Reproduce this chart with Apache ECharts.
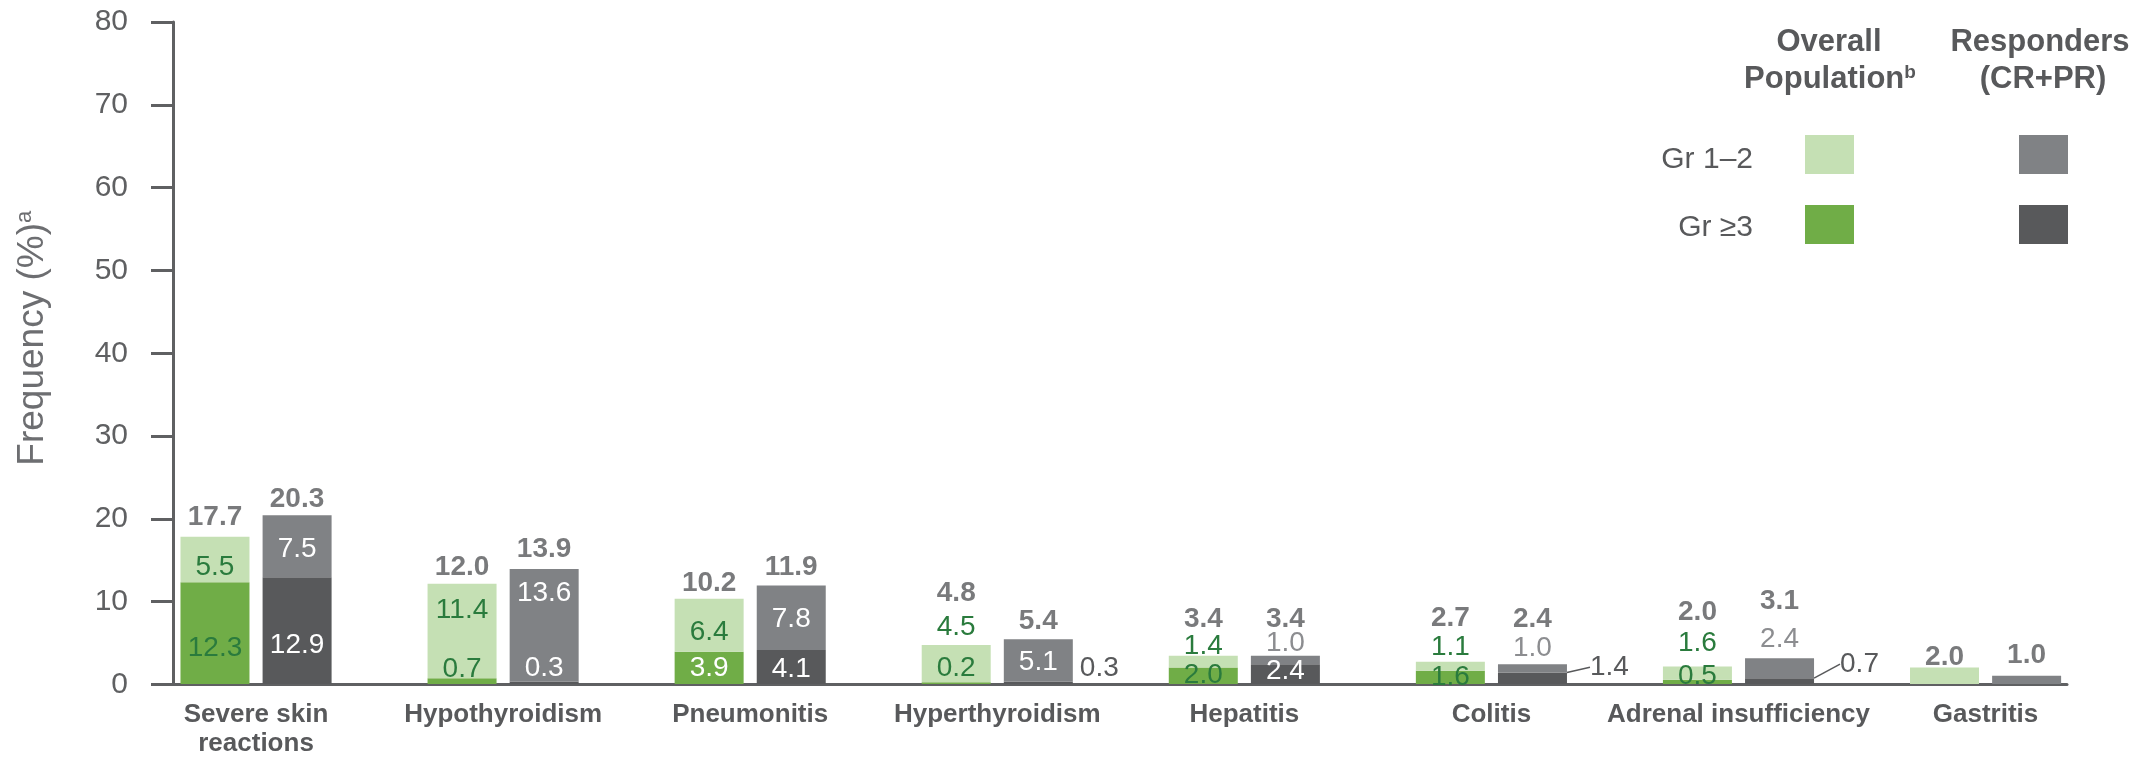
<!DOCTYPE html>
<html lang="en">
  <head>
    <meta charset="UTF-8" />
    <title>Frequency of adverse events</title>
    <style>
      html,
      body {
        margin: 0;
        padding: 0;
        background: #fff;
      }
      #main {
        width: 2146px;
        height: 758px;
      }
    </style>
  </head>
  <body>
    <div id="main"></div>
    <script src="https://cdn.jsdelivr.net/npm/echarts@6/dist/echarts.min.js"></script>

    <script>
      // categories and values
      const categories = [
        "Severe skin\nreactions",
        "Hypothyroidism",
        "Pneumonitis",
        "Hyperthyroidism",
        "Hepatitis",
        "Colitis",
        "Adrenal insufficiency",
        "Gastritis",
      ];
      const overallGr3 = [12.3, 0.7, 3.9, 0.2, 2.0, 1.6, 0.5, 0];
      const overallGr12 = [5.5, 11.4, 6.4, 4.5, 1.4, 1.1, 1.6, 2.0];
      const overallTotal = [17.7, 12.0, 10.2, 4.8, 3.4, 2.7, 2.0, 2.0];
      const respGr3 = [12.9, 0.3, 4.1, 0.3, 2.4, 1.4, 0.7, 0];
      const respGr12 = [7.5, 13.6, 7.8, 5.1, 1.0, 1.0, 2.4, 1.0];
      const respTotal = [20.3, 13.9, 11.9, 5.4, 3.4, 2.4, 3.1, 1.0];
      const yTicks = [0, 10, 20, 30, 40, 50, 60, 70, 80];

      // label nudges (px) - the slide places some labels by hand
      const oGr3Dy = [15, -12, 0, -15, 0, 0, -6, 0];
      const oGr12Dy = [8, -21, 7, -36, -15, -19, -30, 0];
      const rGr3Dy = [15, -14, 2, -14, -3, -11, -17, 0];
      const rGr12Dy = [3, -32, 1, 2, -17, -20, -29, 0];
      const oTotUp = [20, 17, 16, 51, 37, 43, 55, 10];
      const rTotUp = [17, 20, 18, 18, 37, 45, 57, 20];
      const rGr3Outside = { 3: 7, 5: 23, 6: 26 }; // index -> distance
      const rGr3Leader = [5, 6];
      const noSegLabel = [7]; // gastritis shows only totals

      const FONT = "Liberation Sans, Arial, sans-serif";
      const TXT = "#58595b";
      const GREEN_TXT = "#2a7b3d";
      const LIGHT_TXT = "#8c8d90";
      const C_LG = "#c5e0b4";
      const C_G = "#70ad47";
      const C_GR = "#808285";
      const C_DG = "#58595b";
      const BAR_OFF = 41;

      const dom = document.getElementById("main");
      const myChart = echarts.init(dom);

      const fmt = (p) =>
        p.value && !noSegLabel.includes(p.dataIndex) ? p.value.toFixed(1) : "";

      function segData(values, dys, colors) {
        return values.map((v, i) => ({
          value: v,
          label: { offset: [0, dys[i]], color: colors[i] },
        }));
      }

      const oGr3Colors = overallGr3.map((v, i) => (i === 2 ? "#fff" : GREEN_TXT));
      const oGr12Colors = overallGr12.map(() => GREEN_TXT);
      const rGr12Colors = respGr12.map((v, i) =>
        i >= 4 && i <= 6 ? LIGHT_TXT : "#fff"
      );

      // responders Gr >=3: nudges go through labelLayout so leader lines follow
      const rGr3Data = respGr3.map((v, i) => {
        const item = { value: v, label: { color: "#fff" } };
        if (rGr3Outside[i] !== undefined) {
          item.label.position = "right";
          item.label.distance = rGr3Outside[i];
          item.label.color = TXT;
        }
        if (rGr3Leader.includes(i)) {
          item.labelLine = {
            show: true,
            lineStyle: { color: TXT, width: 1.5 },
          };
        }
        return item;
      });

      const segLabel = {
        show: true,
        position: "inside",
        fontFamily: FONT,
        fontSize: 28,
        formatter: fmt,
      };

      const totalLabel = () => ({
        show: true,
        position: "inside",
        fontFamily: FONT,
        fontSize: 28,
        fontWeight: "bold",
        color: TXT,
        formatter: (p) => p.value.toFixed(1),
      });

      function totalData(values, ups, side) {
        return values.map((v, i) => ({
          value: v,
          label: { offset: [side * BAR_OFF, -ups[i]] },
        }));
      }

      myChart.setOption({
        animation: false,
        grid: [
          { left: 173, top: 22, width: 1894, height: 662.5 },
          { left: 132.5, top: 22, width: 1976.6, height: 662.5 },
        ],
        xAxis: [
          {
            gridIndex: 0,
            type: "value",
            min: 0,
            max: 1,
            axisLine: { show: true, lineStyle: { color: "#5f6062", width: 3 } },
            axisTick: { show: false },
            axisLabel: { show: false },
            splitLine: { show: false },
          },
          {
            gridIndex: 1,
            type: "category",
            data: categories,
            axisLine: { show: false },
            axisTick: { show: false },
            axisLabel: {
              interval: 0,
              margin: 16,
              fontFamily: FONT,
              fontSize: 26,
              fontWeight: "bold",
              lineHeight: 29,
              color: TXT,
            },
          },
        ],
        yAxis: [
          {
            gridIndex: 0,
            type: "value",
            min: 0,
            max: 80,
            interval: 10,
            axisLine: { show: true, lineStyle: { color: "#5f6062", width: 3 } },
            axisTick: {
              show: true,
              length: 22,
              lineStyle: { color: "#5f6062", width: 3 },
            },
            axisLabel: {
              margin: 45,
              fontFamily: FONT,
              fontSize: 30,
              color: "#5f6062",
              formatter: (v) => (yTicks.includes(v) ? String(v) : ""),
            },
            splitLine: { show: false },
            name: "{m|Frequency (%)}{s|a}",
            nameLocation: "middle",
            nameGap: 122,
            nameRotate: 90,
            nameTextStyle: {
              padding: [0, 0, 0, 30],
              rich: {
                m: { fontFamily: FONT, fontSize: 37, color: "#6d6e71" },
                s: {
                  fontFamily: FONT,
                  fontSize: 22,
                  color: "#6d6e71",
                  verticalAlign: "top",
                },
              },
            },
          },
          {
            gridIndex: 1,
            type: "value",
            min: 0,
            max: 80,
            show: false,
          },
        ],
        series: [
          {
            name: "Overall Gr ≥3",
            type: "bar",
            xAxisIndex: 1,
            yAxisIndex: 1,
            stack: "overall",
            barWidth: 69,
            barGap: "19%",
            itemStyle: { color: C_G },
            label: segLabel,
            data: segData(overallGr3, oGr3Dy, oGr3Colors),
          },
          {
            name: "Overall Gr 1–2",
            type: "bar",
            xAxisIndex: 1,
            yAxisIndex: 1,
            stack: "overall",
            barWidth: 69,
            itemStyle: { color: C_LG },
            label: segLabel,
            data: segData(overallGr12, oGr12Dy, oGr12Colors),
          },
          {
            name: "Responders Gr ≥3",
            type: "bar",
            xAxisIndex: 1,
            yAxisIndex: 1,
            stack: "resp",
            barWidth: 69,
            barGap: "19%",
            itemStyle: { color: C_DG },
            label: segLabel,
            labelLine: { show: false },
            labelLayout: (params) => ({ dy: rGr3Dy[params.dataIndex] }),
            data: rGr3Data,
          },
          {
            name: "Responders Gr 1–2",
            type: "bar",
            xAxisIndex: 1,
            yAxisIndex: 1,
            stack: "resp",
            barWidth: 69,
            itemStyle: { color: C_GR },
            label: segLabel,
            data: segData(respGr12, rGr12Dy, rGr12Colors),
          },
          {
            name: "Overall total",
            type: "scatter",
            xAxisIndex: 1,
            yAxisIndex: 1,
            symbolSize: 0,
            silent: true,
            z: 5,
            label: totalLabel(),
            data: totalData(overallTotal, oTotUp, -1),
          },
          {
            name: "Responders total",
            type: "scatter",
            xAxisIndex: 1,
            yAxisIndex: 1,
            symbolSize: 0,
            silent: true,
            z: 5,
            label: totalLabel(),
            data: totalData(respTotal, rTotUp, 1),
          },
        ],
        graphic: [
          {
            type: "text",
            x: 1829,
            y: 42,
            style: {
              text: "Overall",
              font: "bold 31px " + FONT,
              fill: TXT,
              align: "center",
              verticalAlign: "middle",
            },
          },
          {
            type: "text",
            x: 1830,
            y: 79,
            style: {
              text: "{m|Population}{s|b}",
              align: "center",
              verticalAlign: "middle",
              rich: {
                m: { font: "bold 31px " + FONT, fill: TXT },
                s: { font: "bold 19px " + FONT, fill: TXT, verticalAlign: "top" },
              },
            },
          },
          {
            type: "text",
            x: 2040,
            y: 42,
            style: {
              text: "Responders",
              font: "bold 31px " + FONT,
              fill: TXT,
              align: "center",
              verticalAlign: "middle",
            },
          },
          {
            type: "text",
            x: 2043,
            y: 79,
            style: {
              text: "(CR+PR)",
              font: "bold 31px " + FONT,
              fill: TXT,
              align: "center",
              verticalAlign: "middle",
            },
          },
          {
            type: "rect",
            shape: { x: 1805, y: 135, width: 49, height: 39 },
            style: { fill: C_LG },
          },
          {
            type: "rect",
            shape: { x: 1805, y: 205, width: 49, height: 39 },
            style: { fill: C_G },
          },
          {
            type: "rect",
            shape: { x: 2019, y: 135, width: 49, height: 39 },
            style: { fill: C_GR },
          },
          {
            type: "rect",
            shape: { x: 2019, y: 205, width: 49, height: 39 },
            style: { fill: C_DG },
          },
          {
            type: "text",
            x: 1753,
            y: 160,
            style: {
              text: "Gr 1–2",
              font: "30px " + FONT,
              fill: TXT,
              align: "right",
              verticalAlign: "middle",
            },
          },
          {
            type: "text",
            x: 1753,
            y: 228,
            style: {
              text: "Gr ≥3",
              font: "30px " + FONT,
              fill: TXT,
              align: "right",
              verticalAlign: "middle",
            },
          },
        ],
      });
    </script>
  </body>
</html>
